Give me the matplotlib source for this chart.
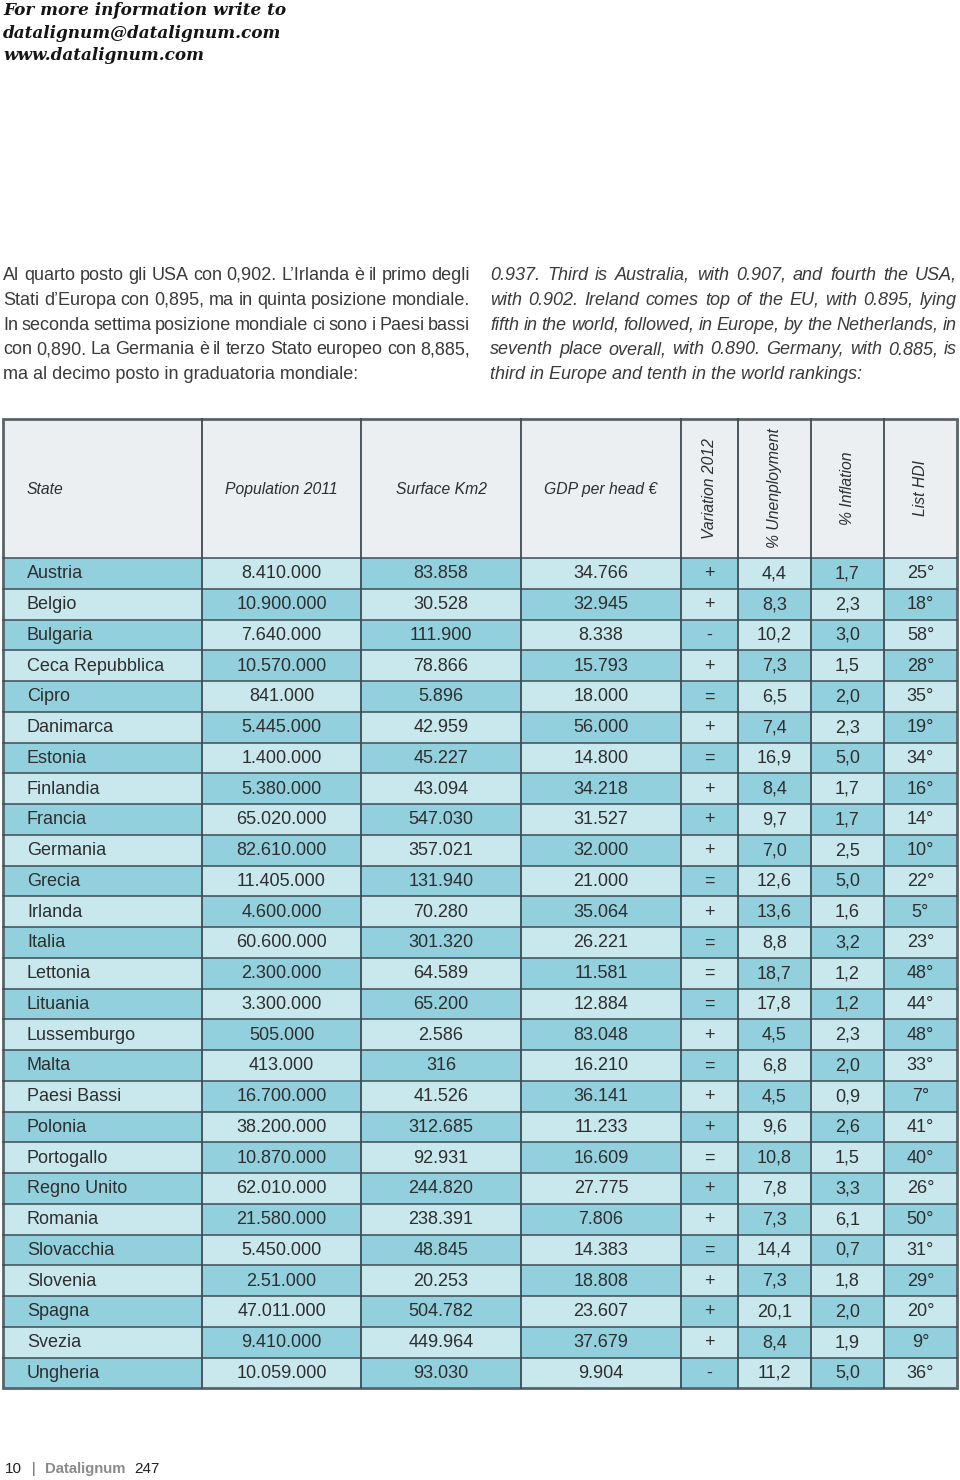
import matplotlib
matplotlib.use("Agg")
import matplotlib.pyplot as plt
from matplotlib.patches import Rectangle

# table data
states = ["Austria", "Belgio", "Bulgaria", "Ceca Repubblica", "Cipro", "Danimarca",
          "Estonia", "Finlandia", "Francia", "Germania", "Grecia", "Irlanda", "Italia",
          "Lettonia", "Lituania", "Lussemburgo", "Malta", "Paesi Bassi", "Polonia",
          "Portogallo", "Regno Unito", "Romania", "Slovacchia", "Slovenia", "Spagna",
          "Svezia", "Ungheria"]
population = ["8.410.000", "10.900.000", "7.640.000", "10.570.000", "841.000", "5.445.000",
              "1.400.000", "5.380.000", "65.020.000", "82.610.000", "11.405.000", "4.600.000",
              "60.600.000", "2.300.000", "3.300.000", "505.000", "413.000", "16.700.000",
              "38.200.000", "10.870.000", "62.010.000", "21.580.000", "5.450.000", "2.51.000",
              "47.011.000", "9.410.000", "10.059.000"]
surface = ["83.858", "30.528", "111.900", "78.866", "5.896", "42.959", "45.227", "43.094",
           "547.030", "357.021", "131.940", "70.280", "301.320", "64.589", "65.200", "2.586",
           "316", "41.526", "312.685", "92.931", "244.820", "238.391", "48.845", "20.253",
           "504.782", "449.964", "93.030"]
gdp = ["34.766", "32.945", "8.338", "15.793", "18.000", "56.000", "14.800", "34.218",
       "31.527", "32.000", "21.000", "35.064", "26.221", "11.581", "12.884", "83.048",
       "16.210", "36.141", "11.233", "16.609", "27.775", "7.806", "14.383", "18.808",
       "23.607", "37.679", "9.904"]
variation = ["+", "+", "-", "+", "=", "+", "=", "+", "+", "+", "=", "+", "=", "=", "=", "+",
             "=", "+", "+", "=", "+", "+", "=", "+", "+", "+", "-"]
unemployment = ["4,4", "8,3", "10,2", "7,3", "6,5", "7,4", "16,9", "8,4", "9,7", "7,0", "12,6",
                "13,6", "8,8", "18,7", "17,8", "4,5", "6,8", "4,5", "9,6", "10,8", "7,8", "7,3",
                "14,4", "7,3", "20,1", "8,4", "11,2"]
inflation = ["1,7", "2,3", "3,0", "1,5", "2,0", "2,3", "5,0", "1,7", "1,7", "2,5", "5,0", "1,6",
             "3,2", "1,2", "1,2", "2,3", "2,0", "0,9", "2,6", "1,5", "3,3", "6,1", "0,7", "1,8",
             "2,0", "1,9", "5,0"]
hdi = ["25°", "18°", "58°", "28°", "35°", "19°", "34°", "16°", "14°", "10°", "22°", "5°",
       "23°", "48°", "44°", "48°", "33°", "7°", "41°", "40°", "26°", "50°", "31°", "29°",
       "20°", "9°", "36°"]

headers = ["State", "Population 2011", "Surface Km2", "GDP per head €",
           "Variation 2012", "% Unenployment", "% Inflation", "List HDI"]
header_vertical = [False, False, False, False, True, True, True, True]

text_it = ["Al quarto posto gli USA con 0,902. L’Irlanda è il primo degli",
           "Stati d’Europa con 0,895, ma in quinta posizione mondiale.",
           "In seconda settima posizione mondiale ci sono i Paesi bassi",
           "con 0,890. La Germania è il terzo Stato europeo con 8,885,",
           "ma al decimo posto in graduatoria mondiale:"]
text_en = ["0.937. Third is Australia, with 0.907, and fourth the USA,",
           "with 0.902. Ireland comes top of the EU, with 0.895, lying",
           "fifth in the world, followed, in Europe, by the Netherlands, in",
           "seventh place overall, with 0.890. Germany, with 0.885, is",
           "third in Europe and tenth in the world rankings:"]
contact = ["For more information write to", "datalignum@datalignum.com", "www.datalignum.com"]

# layout (pixel units)
col_edges = [3, 202, 361, 521, 681, 738, 811, 884, 957]
table_top = 419
header_bottom = 558
row_h = 30.75

dark = "#93d0de"
light = "#c8e8ee"
head_bg = "#eceff2"
line_c = "#3e4c53"
txt_c = "#2e2e2e"

fig = plt.figure(figsize=(9.6, 14.8), dpi=100)
ax = fig.add_axes([0, 0, 1, 1])
ax.set_xlim(0, 960)
ax.set_ylim(1480, 0)
ax.axis("off")
fig.canvas.draw()
renderer = fig.canvas.get_renderer()


def justify(lines, x0, x1, y0, dy, **kw):
    # y0 is the baseline of the first line
    for i, line in enumerate(lines):
        y = y0 + i * dy
        if i == len(lines) - 1:
            ax.text(x0, y, line, va="baseline", ha="left", **kw)
            continue
        words = line.split(" ")
        arts = [ax.text(0, y, w, va="baseline", ha="left", **kw) for w in words]
        widths = [a.get_window_extent(renderer).width for a in arts]
        gap = (x1 - x0 - sum(widths)) / (len(words) - 1)
        x = x0
        for a, w in zip(arts, widths):
            a.set_x(x)
            x += w + gap


# contact lines
for i, s in enumerate(contact):
    ax.text(3, 15 + i * 22.5, s, va="baseline", ha="left", fontsize=12.2,
            family="DejaVu Serif", weight="bold", style="italic", color="#151515")

# paragraphs
justify(text_it, 3, 470, 280, 24.8, fontsize=13, family="Liberation Sans", color="#3a3a3a")
justify(text_en, 490, 957, 280, 24.8, fontsize=13, family="Liberation Sans",
        style="italic", color="#3a3a3a")

# header
ax.add_patch(Rectangle((col_edges[0], table_top), col_edges[-1] - col_edges[0],
                       header_bottom - table_top, facecolor=head_bg, edgecolor="none"))
hy = (table_top + header_bottom) / 2
for j, h in enumerate(headers):
    if j == 0:
        ax.text(27, hy + 1, h, ha="left", va="center", fontsize=11.3, style="italic",
                family="Liberation Sans", color=txt_c)
    elif header_vertical[j]:
        ax.text((col_edges[j] + col_edges[j + 1]) / 2, hy, h, ha="center", va="center",
                rotation=90, fontsize=11.3, style="italic", family="Liberation Sans", color=txt_c)
    else:
        ax.text((col_edges[j] + col_edges[j + 1]) / 2, hy + 1, h, ha="center", va="center",
                fontsize=11.3, style="italic", family="Liberation Sans", color=txt_c)

# body
columns = [states, population, surface, gdp, variation, unemployment, inflation, hdi]
for i in range(len(states)):
    top = header_bottom + i * row_h
    for j, col in enumerate(columns):
        fc = dark if (i + j) % 2 == 0 else light
        ax.add_patch(Rectangle((col_edges[j], top), col_edges[j + 1] - col_edges[j], row_h,
                               facecolor=fc, edgecolor="none"))
        yc = top + row_h / 2 + 0.5
        if j == 0:
            ax.text(27, yc, col[i], ha="left", va="center", fontsize=13,
                    family="Liberation Sans", color=txt_c)
        else:
            ax.text((col_edges[j] + col_edges[j + 1]) / 2, yc, col[i], ha="center",
                    va="center", fontsize=13, family="Liberation Sans", color=txt_c)
    ax.plot([col_edges[0], col_edges[-1]], [top, top], color=line_c, lw=1.1)

table_bottom = header_bottom + len(states) * row_h
for x in col_edges[1:-1]:
    ax.plot([x, x], [table_top, table_bottom], color=line_c, lw=1.3)
ax.add_patch(Rectangle((col_edges[0], table_top), col_edges[-1] - col_edges[0],
                       table_bottom - table_top, facecolor="none", edgecolor="#596469", lw=2))

# footer
ax.text(5, 1469, "10", ha="left", va="center", fontsize=11, family="Liberation Sans",
        color="#222222")
ax.text(32, 1469, "|", ha="left", va="center", fontsize=10, family="Liberation Sans",
        color="#555555")
ax.text(45, 1469, "Datalignum", ha="left", va="center", fontsize=10.7, family="Liberation Sans",
        weight="bold", color="#8a8a8a")
ax.text(134, 1469, "247", ha="left", va="center", fontsize=11, family="Liberation Sans",
        color="#222222")

fig.savefig("out.png", dpi=100, facecolor="white")
